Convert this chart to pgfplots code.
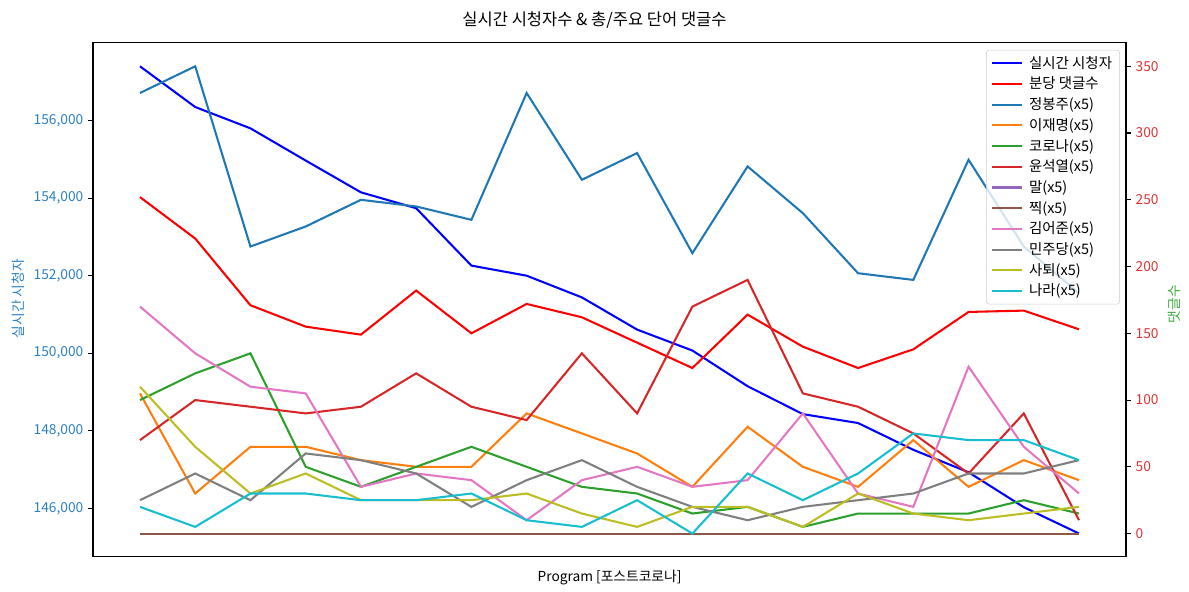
\documentclass[border=0pt]{standalone}
\usepackage{fontspec}
\setmainfont{Noto Sans CJK KR}
\usepackage{pgfplots}
\pgfplotsset{compat=1.18}
\usepackage{pgfplotstable}
\definecolor{tabblue}{HTML}{1F77B4}
\definecolor{taborange}{HTML}{FF7F0E}
\definecolor{tabgreen}{HTML}{2CA02C}
\definecolor{tabred}{HTML}{D62728}
\definecolor{tabpurple}{HTML}{9467BD}
\definecolor{tabbrown}{HTML}{8C564B}
\definecolor{tabpink}{HTML}{E377C2}
\definecolor{tabgray}{HTML}{7F7F7F}
\definecolor{tabolive}{HTML}{BCBD22}
\definecolor{tabcyan}{HTML}{17BECF}
\definecolor{lefttick}{RGB}{45,128,196}
\definecolor{righttick}{RGB}{222,52,52}
\definecolor{rightlab}{RGB}{60,170,60}

\pgfplotstableread{
x b r jbj ljm cor yse mal jjik kim mjd st nr
0 157400 252 330 105 100 70 0 0 170 25 110 20
1 156350 221 350 30 120 100 0 0 135 45 65 5
2 155800 171 215 65 135 95 0 0 110 25 30 30
3 154970 155 230 65 50 90 0 0 105 60 45 30
4 154150 149 250 55 35 95 0 0 35 55 25 25
5 153740 182 245 50 50 120 0 0 45 45 25 25
6 152260 150 235 50 65 95 0 0 40 20 25 30
7 152000 172 330 90 50 85 0 0 10 40 30 10
8 151440 162 265 75 35 135 0 0 40 55 15 5
9 150610 143 285 60 30 90 0 0 50 35 5 25
10 150070 124 210 35 15 170 0 0 35 20 20 0
11 149150 164 275 80 20 190 0 0 40 10 20 45
12 148430 140 240 50 5 105 0 0 90 20 5 25
13 148200 124 195 35 15 95 0 0 30 25 30 45
14 147510 138 190 70 15 75 0 0 20 30 15 75
15 146930 166 280 35 15 45 0 0 125 45 10 70
16 146030 167 215 55 25 90 0 0 65 45 15 70
17 145350 153 180 40 15 10 0 0 30 55 20 55
}\data

\begin{document}
\begin{tikzpicture}
\useasboundingbox (-67.6pt,-25.4pt) rectangle (796.4pt,404.7pt);
\begin{axis}[
  at={(0pt,0pt)}, anchor=south west,
  scale only axis, width=750.6pt, height=373.5pt,
  xmin=-0.85, xmax=17.85, ymin=144747, ymax=158003,
  xtick=\empty,
  ytick={146000,148000,150000,152000,154000,156000},
  yticklabels={{146,000},{148,000},{150,000},{152,000},{154,000},{156,000}},
  ytick pos=left,
  tick align=outside, major tick length=3.5pt,
  tick style={black, line width=0.8pt},
  axis line style={line width=0.8pt},
  scaled y ticks=false,
  yticklabel style={color=lefttick, font=\fontsize{10}{12}\selectfont},
  ylabel={실시간 시청자},
  ylabel style={color=lefttick, font=\fontsize{10}{12}\selectfont, xshift=1pt},
  xlabel={Program [포스트코로나]},
  xlabel style={at={(rel axis cs:0.5,0)}, anchor=center, yshift=-15pt, font=\fontsize{10}{12}\selectfont},
  title={실시간 시청자수 \& 총/주요 단어 댓글수},
  title style={at={(rel axis cs:0.4855,1.0486)}, anchor=center, yshift=-7.3pt, font=\fontsize{12}{14}\selectfont},
]
\addplot[blue, line width=1.5pt] table[x=x, y=b] {\data};
\end{axis}
\begin{axis}[
  at={(0pt,0pt)}, anchor=south west,
  scale only axis, width=750.6pt, height=373.5pt,
  xmin=-0.85, xmax=17.85, ymin=-17.5, ymax=367.5,
  axis x line=none, axis y line*=right,
  ytick={0,50,100,150,200,250,300,350},
  yticklabels={0,50,100,150,200,250,300,350},
  tick align=outside, major tick length=3.5pt,
  tick style={black, line width=0.8pt},
  axis line style={line width=0.8pt},
  yticklabel style={color=righttick, font=\fontsize{10}{12}\selectfont},
  ylabel={댓글수},
  ylabel style={color=rightlab, font=\fontsize{10}{12}\selectfont, xshift=-3pt},
  legend image code/.code={\draw[#1] (0pt,0pt) -- (21.5pt,0pt);},
  legend cell align=left,
  legend style={at={(rel axis cs:1,1)}, anchor=north east, xshift=-4.4pt, yshift=-5pt,
    draw=black!20, rounded corners=2pt, fill=white, fill opacity=0.8, text opacity=1,
    font=\fontsize{10.5}{12}\selectfont, row sep=0.85pt, inner xsep=3.5pt, inner ysep=2.5pt,
    /tikz/every odd column/.append style={column sep=2.5pt}},
]
\addlegendimage{blue, line width=1.5pt}
\addlegendentry{실시간 시청자}
\addplot[red, line width=1.5pt] table[x=x, y=r] {\data};
\addlegendentry{분당 댓글수}
\addplot[tabblue, line width=1.5pt] table[x=x, y=jbj] {\data};
\addlegendentry{정봉주(x5)}
\addplot[taborange, line width=1.5pt] table[x=x, y=ljm] {\data};
\addlegendentry{이재명(x5)}
\addplot[tabgreen, line width=1.5pt] table[x=x, y=cor] {\data};
\addlegendentry{코로나(x5)}
\addplot[tabred, line width=1.5pt] table[x=x, y=yse] {\data};
\addlegendentry{윤석열(x5)}
\addplot[tabpurple, line width=1.5pt] table[x=x, y=mal] {\data};
\addlegendentry{말(x5)}
\addplot[tabbrown, line width=1.5pt] table[x=x, y=jjik] {\data};
\addlegendentry{찍(x5)}
\addplot[tabpink, line width=1.5pt] table[x=x, y=kim] {\data};
\addlegendentry{김어준(x5)}
\addplot[tabgray, line width=1.5pt] table[x=x, y=mjd] {\data};
\addlegendentry{민주당(x5)}
\addplot[tabolive, line width=1.5pt] table[x=x, y=st] {\data};
\addlegendentry{사퇴(x5)}
\addplot[tabcyan, line width=1.5pt] table[x=x, y=nr] {\data};
\addlegendentry{나라(x5)}
\end{axis}
\end{tikzpicture}
\end{document}
